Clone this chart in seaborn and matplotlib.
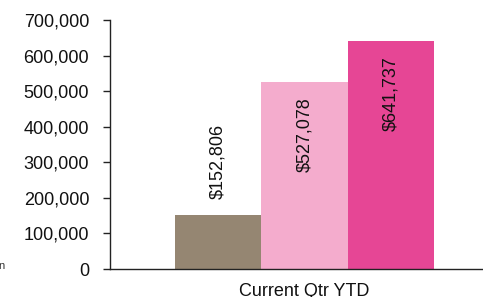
import matplotlib
matplotlib.use("Agg")
import matplotlib.pyplot as plt
import seaborn as sns
import pandas as pd
from matplotlib.ticker import FuncFormatter

categories = ["Current Qtr YTD"]
series = ["Series A", "Series B", "Series C"]
values = [152806, 527078, 641737]
colors = ["#958672", "#F4ACCD", "#E64695"]
bar_labels = ["$152,806", "$527,078", "$641,737"]
yticks = [0, 100000, 200000, 300000, 400000, 500000, 600000, 700000]

df = pd.DataFrame({"cat": categories * len(series), "series": series, "value": values})

sns.set_theme(style="white")
plt.rcParams["font.family"] = ["Liberation Sans", "DejaVu Sans"]

fig = plt.figure(figsize=(4.83, 2.97), dpi=100)
ax = fig.add_axes([110 / 483, 28 / 297, 373 / 483, 249 / 297])

sns.barplot(data=df, x="cat", y="value", hue="series", palette=colors,
            dodge=True, width=0.8, saturation=1, ax=ax, legend=False,
            linewidth=0, edgecolor="none")

ax.set_ylim(0, 700000)
ax.set_xlim(-0.601, 0.551)
ax.set_yticks(yticks)
ax.yaxis.set_major_formatter(FuncFormatter(lambda v, p: f"{int(v):,}"))
ax.set_xlabel("")
ax.set_ylabel("")
for s in ["top", "right"]:
    ax.spines[s].set_visible(False)
for s in ["left", "bottom"]:
    ax.spines[s].set_color("#222222")
    ax.spines[s].set_linewidth(1.0)
ax.tick_params(axis="y", which="major", left=True, length=5, width=1, color="#222222",
               labelsize=13, pad=10, labelcolor="#111111")
ax.tick_params(axis="x", which="major", bottom=False, length=0, labelsize=13,
               pad=10, labelcolor="#111111")

for i, cont in enumerate(ax.containers):
    if i == 0:
        ax.bar_label(cont, labels=[bar_labels[i]], rotation=90, padding=11,
                     fontsize=13, color="#111111")
    else:
        for patch in cont.patches:
            x = patch.get_x() + patch.get_width() / 2
            top = patch.get_height()
            ax.annotate(bar_labels[i], xy=(x, top), xytext=(0, -11),
                        textcoords="offset points", rotation=90,
                        ha="center", va="top", fontsize=13, color="#111111")

fig.text(-0.004, 0.095, "n", fontsize=8, color="#333333")

fig.savefig("out.png", dpi=100, facecolor="white")
